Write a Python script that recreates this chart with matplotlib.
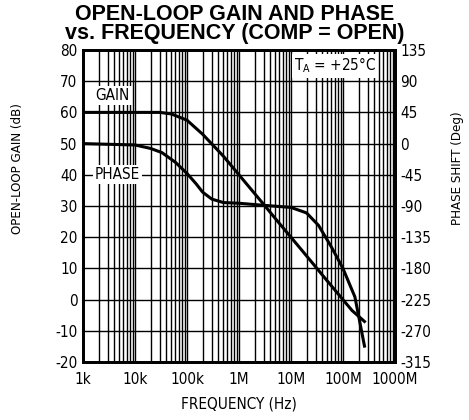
import numpy as np
import matplotlib
matplotlib.use("Agg")
import matplotlib.pyplot as plt
from matplotlib import font_manager as fm

# ---- data ----
gain_freq = [1e3, 1e4, 3e4, 5e4, 1e5, 2e5, 5e5, 1e6, 2e6, 3e6, 5e6, 1e7, 2e7, 5e7, 1e8, 1.5e8, 2.6e8]
gain_db = [60, 60, 60, 59.5, 57.5, 53, 46, 40, 34, 30.5, 26, 20, 14, 6, 0, -3.5, -7]

phase_freq = [1e3, 1e4, 2e4, 3.3e4, 6e4, 1e5, 1.5e5, 2e5, 3e5, 5e5, 1e6, 3e6, 1e7, 2e7, 3.4e7, 6e7, 1e8, 1.7e8, 2.6e8]
phase_deg = [0, -2, -7, -13, -27, -43, -58, -70, -80, -85, -86, -89, -92, -100, -118, -149, -180, -221, -292]

x_ticks = [1e3, 1e4, 1e5, 1e6, 1e7, 1e8, 1e9]
x_labels = ["1k", "10k", "100k", "1M", "10M", "100M", "1000M"]
gain_ticks = [-20, -10, 0, 10, 20, 30, 40, 50, 60, 70, 80]
phase_ticks = [-315, -270, -225, -180, -135, -90, -45, 0, 45, 90, 135]

# ---- fonts: prefer a narrow/condensed sans ----
narrow = [f for f in fm.fontManager.ttflist if f.name == "Liberation Sans Narrow"
          and f.style == "normal" and f.weight in (400, "normal", "regular")]
cond = [f for f in fm.fontManager.ttflist if f.name == "DejaVu Sans" and f.stretch == "condensed"
        and f.style == "normal" and f.weight in (400, "normal", "regular")]
if narrow:
    plt.rcParams['font.family'] = ["Liberation Sans Narrow", 'DejaVu Sans']
    base = 12
elif cond:
    plt.rcParams['font.family'] = ["DejaVu Sans"]
    plt.rcParams['font.stretch'] = 'condensed'
    base = 11
else:
    plt.rcParams['font.family'] = ["Liberation Sans", 'DejaVu Sans']
    base = 11
plt.rcParams['axes.unicode_minus'] = False

fig = plt.figure(figsize=(4.69, 4.20), dpi=100)
ax = fig.add_axes([0.177, 0.138, 0.665, 0.743])

ax.set_xscale('log')
ax.set_xlim(1e3, 1e9)
ax.set_ylim(-20, 80)

# grid
ax.set_yticks(gain_ticks)
ax.yaxis.grid(True, color='black', linewidth=1.0)
for dec in range(3, 9):
    for m in range(1, 10):
        f = m * 10 ** dec
        if 1e3 < f < 1e9:
            ax.axvline(f, color='black', linewidth=1.0, zorder=1)
ax.set_axisbelow(True)

ax.plot(gain_freq, gain_db, color='black', linewidth=2.2, zorder=3)

ax2 = ax.twinx()
ax2.set_ylim(-315, 135)
ax2.set_yticks(phase_ticks)
ax2.plot(phase_freq, phase_deg, color='black', linewidth=2.2, zorder=3)

ax.set_xticks(x_ticks)
ax.set_xticklabels(x_labels)
ax.xaxis.set_minor_locator(matplotlib.ticker.NullLocator())

for a in (ax, ax2):
    a.tick_params(axis='y', length=0, labelsize=base, pad=4)
    for s in a.spines.values():
        s.set_linewidth(2.0)
        s.set_color('black')
ax.tick_params(axis='x', length=0, labelsize=base, pad=7)

ax.set_xlabel("FREQUENCY (Hz)", fontsize=base, labelpad=7)
ax.set_ylabel("OPEN-LOOP GAIN (dB)", fontsize=base - 1.5)
ax.yaxis.set_label_coords(-0.19, 0.62)
ax2.set_ylabel("PHASE SHIFT (Deg)", fontsize=base - 1.5, rotation=90)
ax2.yaxis.set_label_coords(1.18, 0.62)

box = dict(facecolor='white', edgecolor='none', pad=1.5)
ax.text(1.75e3, 65.5, "GAIN", fontsize=base, ha='left', va='center', bbox=box, zorder=4)
ax.text(1.7e3, 40, "PHASE", fontsize=base, ha='left', va='center', bbox=box, zorder=4)
ax.text(7e7, 75, r"T$_\mathregular{A}$ = +25°C", fontsize=base, ha='center', va='center', bbox=box, zorder=4)

fig.suptitle("OPEN-LOOP GAIN AND PHASE\nvs. FREQUENCY (COMP = OPEN)", fontsize=15.5,
             fontweight='bold', family=['Liberation Sans', 'DejaVu Sans'], stretch='normal',
             y=0.99, linespacing=0.88)

fig.savefig("out.png", dpi=100)
